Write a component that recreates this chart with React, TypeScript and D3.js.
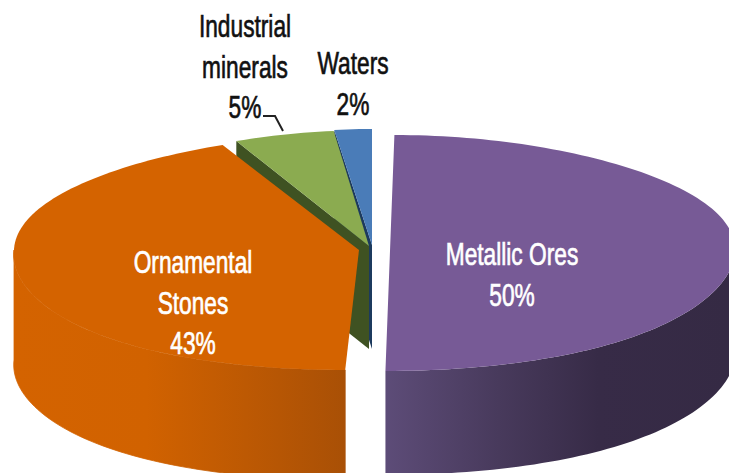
import React from 'react';
import * as d3 from 'd3';

const categories = ['Metallic Ores', 'Ornamental Stones', 'Industrial minerals', 'Waters'];
const shares = [50, 43, 5, 2];

const topColors = ['#775a96', '#d46300', '#8bab50', '#4a7cb8'];
const wallColors = ['#4a3a63', '#a95004', '#3f5222', '#1c3a5e'];

// exploded centre of every slice, lean = how far the near/far half tips left
const centres = [
  { x: 390, y: 251, rx: 345, depth: 104, lean: -0.038, leanFar: -0.038 },
  { x: 359, y: 250, rx: 345, depth: 110, lean: -0.115, leanFar: -0.038 },
  { x: 369, y: 246, rx: 336, depth: 103, lean: 0, leanFar: -0.038 },
  { x: 372, y: 245, rx: 320, depth: 104, lean: 0, leanFar: 0 },
];

const width = 729;
const height = 473;
const ryFar = 116;
const ryNear = 120;
const narrow = 0.06; // far rim is narrower than the near rim

const labels = [
  { lines: ['Metallic Ores', '50%'], x: 512, y: 265, dy: 41, fill: '#fff' },
  { lines: ['Ornamental', 'Stones', '43%'], x: 193, y: 273, dy: 40.5, fill: '#fff' },
  { lines: ['Industrial', 'minerals', '5%'], x: 245, y: 37, dy: 40.5, fill: '#111' },
  { lines: ['Waters', '2%'], x: 353, y: 74, dy: 41, fill: '#111' },
];

const slices = d3.pie<number>().sort(null)(shares);

const unitY = d3.scaleLinear().domain([-1, 0, 1]).range([-ryFar, 0, ryNear]);
const line = d3.line<[number, number]>();

const rim = (i: number, a: number, drop = 0): [number, number] => {
  const c = centres[i];
  const dy = unitY(-Math.cos(a));
  const dx = c.rx * Math.sin(a) * (1 - narrow * Math.pow(Math.cos(a), 3));
  return [c.x + dx + (dy > 0 ? c.lean : c.leanFar) * dy, c.y + dy + drop];
};

const angles = (a0: number, a1: number) => {
  const n = Math.max(2, Math.ceil((a1 - a0) * 40));
  return d3.range(n + 1).map(k => a0 + ((a1 - a0) * k) / n);
};

const topPath = (i: number) => {
  const s = slices[i];
  const c: [number, number] = [centres[i].x, centres[i].y];
  return line([c, ...angles(s.startAngle, s.endAngle).map(a => rim(i, a))]) + 'Z';
};

// outer skin, only the part of the rim that faces the viewer
const sidePath = (i: number) => {
  const s = slices[i];
  const a0 = Math.max(s.startAngle, Math.PI / 2);
  const a1 = Math.min(s.endAngle, (3 * Math.PI) / 2);
  const arc = angles(a0, a1);
  const d = centres[i].depth;
  return line([...arc.map(a => rim(i, a)), ...arc.reverse().map(a => rim(i, a, d))]) + 'Z';
};

// cut face from the rim corner to the centre
const wallPath = (i: number) => {
  const a = slices[i].startAngle;
  const c = centres[i];
  const p = rim(i, a);
  return line([p, [c.x, c.y], [c.x, c.y + c.depth], [p[0], p[1] + c.depth]]) + 'Z';
};

const App = () => {
  return (
    <svg
      width={width}
      height={height}
      viewBox={`0 0 ${width} ${height}`}
      style={{ position: 'absolute', left: 0, top: 0, background: '#fff' }}
    >
      <defs>
        <linearGradient id="side0" gradientUnits="userSpaceOnUse" x1={385} x2={729} y1={0} y2={0}>
          <stop offset={0} stopColor="#5d4c78" />
          <stop offset={0.33} stopColor="#483a5c" />
          <stop offset={0.62} stopColor="#372b47" />
          <stop offset={1} stopColor="#352a44" />
        </linearGradient>
        <linearGradient id="side1" gradientUnits="userSpaceOnUse" x1={14} x2={345} y1={0} y2={0}>
          <stop offset={0} stopColor="#d46300" />
          <stop offset={0.4} stopColor="#d16200" />
          <stop offset={0.7} stopColor="#bd5903" />
          <stop offset={1} stopColor="#a95006" />
        </linearGradient>
      </defs>

      {/* back to front */}
      <path d={wallPath(3)} fill={wallColors[3]} />
      <path d={topPath(3)} fill={topColors[3]} />
      <path d={wallPath(2)} fill={wallColors[2]} />
      <path d={topPath(2)} fill={topColors[2]} />
      <path d={sidePath(1)} fill="url(#side1)" stroke="url(#side1)" strokeWidth={0.8} />
      <path d={topPath(1)} fill={topColors[1]} />
      <path d={sidePath(0)} fill="url(#side0)" />
      <path d={topPath(0)} fill={topColors[0]} />

      <path d="M263,116H275L283,131" fill="none" stroke="#222" strokeWidth={2} />

      {labels.map((l, i) => (
        <g key={categories[i]}>
          {l.lines.map((t, k) => (
            <text
              key={k}
              transform={`translate(${l.x},${l.y + k * l.dy}) scale(0.71,1)`}
              textAnchor="middle"
              fontFamily="'Liberation Sans', sans-serif"
              fontSize={32}
              fill={l.fill}
              stroke={l.fill}
              strokeWidth={0.7}
            >
              {t}
            </text>
          ))}
        </g>
      ))}
    </svg>
  );
};

export default App;
